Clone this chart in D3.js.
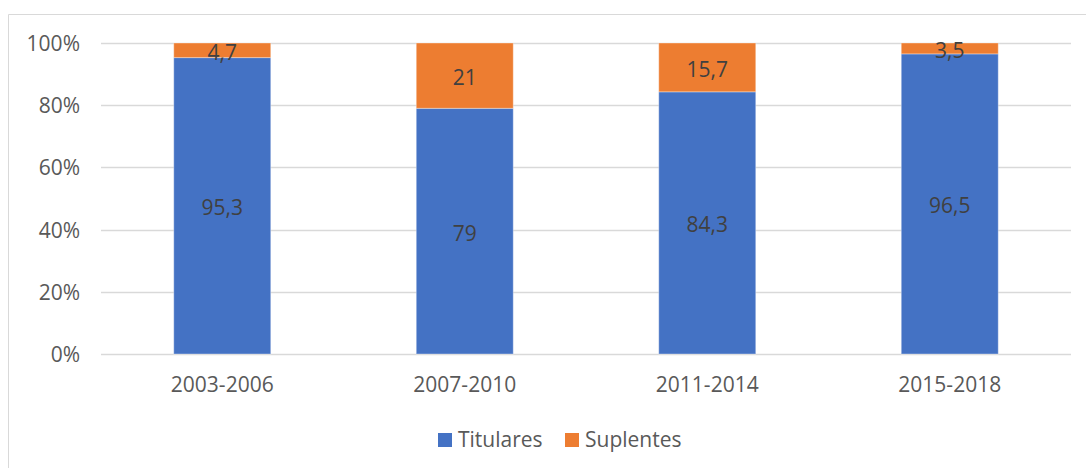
<!DOCTYPE html>
<html>
<head>
<meta charset="utf-8">
<script src="https://cdn.jsdelivr.net/npm/d3@7"></script>
<style>
  html, body { margin: 0; padding: 0; background: #fff; }
  svg { display: block; font-family: "Open Sans", sans-serif; }
</style>
</head>
<body>
<svg id="chart" width="1086" height="468"></svg>
<script>
const categories = ["2003-2006", "2007-2010", "2011-2014", "2015-2018"];
const titulares = [95.3, 79, 84.3, 96.5];
const suplentes = [4.7, 21, 15.7, 3.5];
const titularesLabels = ["95,3", "79", "84,3", "96,5"];
const suplentesLabels = ["4,7", "21", "15,7", "3,5"];
const seriesNames = ["Titulares", "Suplentes"];
const yTicks = [0, 20, 40, 60, 80, 100];

(function () {
const colors = ["#4472C4", "#ED7D31"];
const svg = d3.select("#chart");

// chart border
svg.append("path")
  .attr("d", "M8.5,468 V14.5 H1086")
  .attr("fill", "none").attr("stroke", "#d9d9d9").attr("stroke-width", 1);

const pLeft = 101, pRight = 1071, pTop = 43, pBottom = 354;
const x = d3.scaleBand().domain(categories).range([pLeft, pRight]).paddingInner(0.6).paddingOuter(0.3);
const y = d3.scaleLinear().domain([0, 100]).range([pBottom, pTop]);

// gridlines
svg.append("g").selectAll("line").data(yTicks).join("line")
  .attr("x1", pLeft).attr("x2", pRight)
  .attr("y1", d => Math.round(y(d)) + 0.5).attr("y2", d => Math.round(y(d)) + 0.5)
  .attr("stroke", "#d9d9d9").attr("stroke-width", 1.5);

// y axis labels
const yAxis = d3.axisLeft(y).tickValues(yTicks).tickFormat(d => d + "%").tickSize(0).tickPadding(21);
const gy = svg.append("g").attr("transform", `translate(${pLeft},0)`).call(yAxis);
gy.select(".domain").remove();
gy.selectAll("text").attr("font-size", 21).attr("fill", "#595959").attr("font-family", "Open Sans, sans-serif").attr("dy", "0.36em");

// x axis labels
const xAxis = d3.axisBottom(x).tickSize(0).tickPadding(23);
const gx = svg.append("g").attr("transform", `translate(0,${pBottom})`).call(xAxis);
gx.select(".domain").remove();
gx.selectAll("text").attr("font-size", 21).attr("fill", "#595959").attr("font-family", "Open Sans, sans-serif");

// stacked data
const rows = categories.map((c, i) => ({ cat: c, Titulares: titulares[i], Suplentes: suplentes[i] }));
const stack = d3.stack().keys(seriesNames)(rows);
const labels = [titularesLabels, suplentesLabels];

stack.forEach((layer, si) => {
  const g = svg.append("g");
  g.selectAll("rect").data(layer).join("rect")
    .attr("x", d => x(d.data.cat))
    .attr("width", x.bandwidth())
    .attr("y", d => y(d[1]))
    .attr("height", d => y(d[0]) - y(d[1]))
    .attr("fill", colors[si])
    .attr("stroke", "rgba(255,255,255,0.35)").attr("stroke-width", 1);
  g.selectAll("text").data(layer).join("text")
    .attr("x", d => x(d.data.cat) + x.bandwidth() / 2)
    .attr("y", d => (y(d[0]) + y(d[1])) / 2)
    .attr("dy", "0.45em")
    .attr("text-anchor", "middle")
    .attr("font-size", 21)
    .attr("fill", "#404040")
    .text((d, i) => labels[si][i]);
});

// legend
const legend = svg.append("g");
const legendItems = [{ name: seriesNames[0], x: 438 }, { name: seriesNames[1], x: 565 }];
legendItems.forEach((it, i) => {
  legend.append("rect").attr("x", it.x).attr("y", 433).attr("width", 14).attr("height", 14).attr("fill", colors[i]);
  legend.append("text").attr("x", it.x + 20).attr("y", 440).attr("dy", "0.35em")
    .attr("font-size", 21).attr("fill", "#595959").text(it.name);
});
})();
</script>
</body>
</html>
